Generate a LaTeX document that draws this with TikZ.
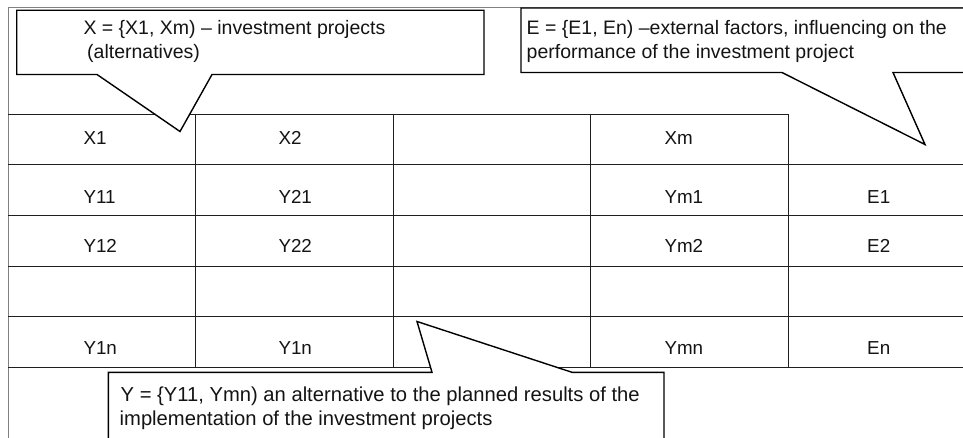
\documentclass[tikz,border=0pt]{standalone}
\usepackage{fontspec}
\setmainfont{Liberation Sans}
\begin{document}
\begin{tikzpicture}[x=1pt,y=-1pt,
  grid/.style={draw=black!88,line width=1pt},
  frame/.style={draw=black!50,line width=1pt},
  callout/.style={draw=black,line width=1.4pt,fill=white,line join=miter},
  ctext/.style={anchor=base west,inner sep=0pt,text=black!92,font=\fontsize{19.5}{24}\selectfont},
  btext/.style={anchor=base west,inner sep=0pt,text=black!92,font=\fontsize{20.2}{24}\selectfont},
  ttext/.style={anchor=base west,inner sep=0pt,text=black!92,font=\fontsize{18.8}{22}\selectfont}]
\useasboundingbox (0,0) rectangle (963,438);
\clip (0,0) rectangle (963,438);
\fill[white] (0,0) rectangle (963,438);
% outer frame
\draw[frame] (8.3,445) -- (8.3,7.3) -- (970,7.3);
% table grid
\draw[grid] (8.3,114.3) -- (788.3,114.3);
\foreach \y in {165,215.7,266,316.7,367.3} \draw[grid] (8.3,\y) -- (970,\y);
\foreach \x in {195,393,590,788.3} \draw[grid] (\x,114.3) -- (\x,367.3);
% table texts
\node[ttext] (x1) at (83.3,145) {X1};
\node[ttext] (x2) at (278.3,145) {X2};
\node[ttext] (xm) at (664.3,145) {Xm};
\node[ttext] (y11) at (83.3,204) {Y11};
\node[ttext] (y21) at (278.3,204) {Y21};
\node[ttext] (ym1) at (664.3,204) {Ym1};
\node[ttext] (e1) at (867,204) {E1};
\node[ttext] (y12) at (83.3,252) {Y12};
\node[ttext] (y22) at (278.3,252) {Y22};
\node[ttext] (ym2) at (664.3,252) {Ym2};
\node[ttext] (e2) at (867,252) {E2};
\node[ttext] (y1n) at (83.3,354.5) {Y1n};
\node[ttext] (y2n) at (278.3,354.5) {Y1n};
\node[ttext] (ymn) at (664.3,354.5) {Ymn};
\node[ttext] (en) at (867,354.5) {En};
% callouts
\draw[callout] (16.7,10.3) -- (484,10.3) -- (484,74.5) -- (212,74.5) -- (180,131.5) -- (97,74.5) -- (16.7,74.5) -- cycle;
\draw[callout] (521,8) -- (975,8) -- (975,72.5) -- (893,72.5) -- (925,144.5) -- (782,72.5) -- (521,72.5) -- cycle;
\draw[callout] (108.3,445) -- (108.3,372.3) -- (432,372.3) -- (417,321.5) -- (572,372.3) -- (664,372.3) -- (664,445) -- cycle;
% callout texts
\node[ctext] (xa) at (83.3,35) {X = \{X1, Xm) – investment projects};
\node[ctext] (xb) at (87,59) {(alternatives)};
\node[ctext] (ea) at (526.5,34.5) {E = \{E1, En) –external factors, influencing on the};
\node[ctext] (eb) at (526.5,58.5) {performance of the investment project};
\node[btext] (ya) at (120.5,401) {Y = \{Y11, Ymn) an alternative to the planned results of the};
\node[btext] (yb) at (119.5,425) {implementation of the investment projects};
\end{tikzpicture}
\end{document}
